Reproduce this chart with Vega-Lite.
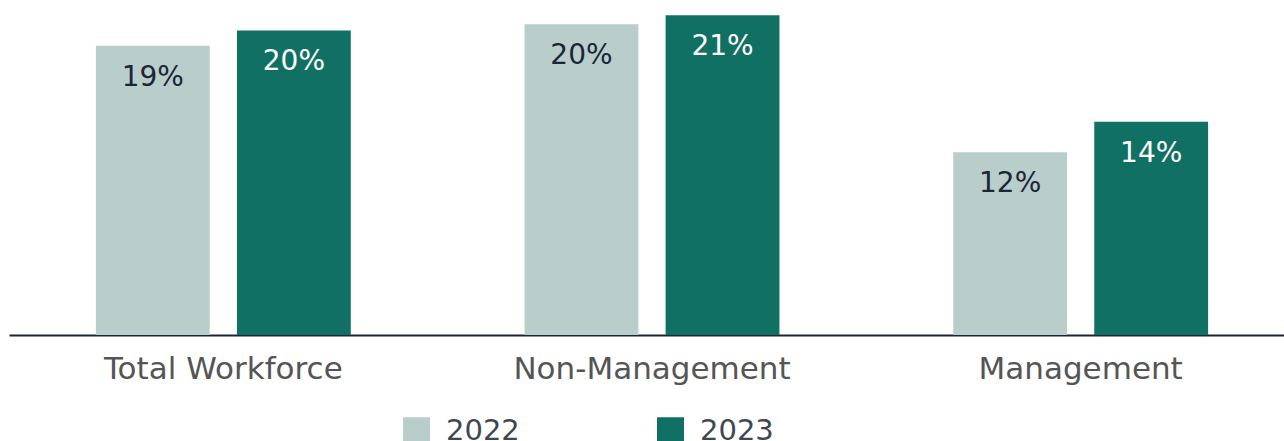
{
  "$schema": "https://vega.github.io/schema/vega-lite/v6.json",
  "width": 1275,
  "height": 335,
  "autosize": {"type": "none"},
  "padding": {"left": 9, "top": 0, "right": 0, "bottom": 106},
  "background": "#ffffff",
  "config": {"view": {"stroke": null}, "font": "DejaVu Sans"},
  "data": {"values": [
    {"category": "Total Workforce", "year": "2022", "value": 0.19},
    {"category": "Total Workforce", "year": "2023", "value": 0.200},
    {"category": "Non-Management", "year": "2022", "value": 0.204},
    {"category": "Non-Management", "year": "2023", "value": 0.21},
    {"category": "Management", "year": "2022", "value": 0.12},
    {"category": "Management", "year": "2023", "value": 0.14}
  ]},
  "encoding": {
    "x": {"field": "category", "type": "nominal", "sort": ["Total Workforce", "Non-Management", "Management"],
      "scale": {"range": [0, 1286], "paddingInner": 0, "paddingOuter": 0},
      "axis": {"title": null, "domainColor": "#1c2533", "domainWidth": 2, "ticks": false, "labelAngle": 0,
        "labelFontSize": 31, "labelColor": "#555555", "labelPadding": 19, "labelFont": "DejaVu Sans", "labelLimit": 0}},
    "xOffset": {"field": "year", "type": "nominal", "scale": {"paddingInner": 0.193, "paddingOuter": 0.616}},
    "y": {"field": "value", "type": "quantitative", "scale": {"domain": [0, 0.22], "nice": false}, "axis": null}
  },
  "layer": [
    {"mark": {"type": "bar"},
     "encoding": {"color": {"field": "year", "type": "nominal",
        "scale": {"domain": ["2022", "2023"], "range": ["#b9cecb", "#107063"]},
        "legend": {"title": null, "orient": "none", "legendX": 393, "legendY": 416, "direction": "horizontal",
          "symbolType": "square", "symbolSize": 729, "symbolStrokeWidth": 0, "labelFontSize": 29, "labelColor": "#3d4852",
          "labelOffset": 15, "columnPadding": 136, "labelFont": "DejaVu Sans", "labelLimit": 0}}}},
    {"mark": {"type": "text", "baseline": "alphabetic", "dy": 40, "fontSize": 28, "font": "DejaVu Sans"},
     "encoding": {"text": {"field": "value", "type": "quantitative", "format": ".0%"},
       "color": {"condition": {"test": "datum.year == '2022'", "value": "#1b2636"}, "value": "#ffffff"}}}
  ]
}
